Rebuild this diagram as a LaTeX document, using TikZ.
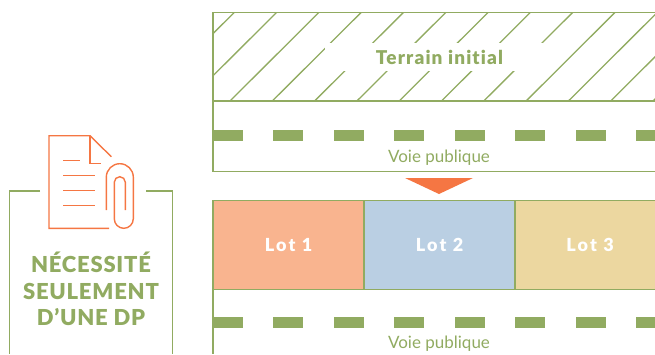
\documentclass[tikz,border=0pt]{standalone}
\usepackage{fontspec}
\setmainfont{Lato}
\newfontfamily\heavyterm[LetterSpace=6,Ligatures={NoCommon,NoRare,NoContextual}]{Lato Black}
\newfontfamily\heavylot[LetterSpace=12]{Lato Black}
\newfontfamily\headfont[LetterSpace=3.5]{Lato Black}
\definecolor{grn}{HTML}{91AB61}
\definecolor{org}{HTML}{F57643}
\definecolor{lotA}{HTML}{F9B48F}
\definecolor{lotB}{HTML}{BACFE3}
\definecolor{lotC}{HTML}{ECD7A0}
\tikzset{
  frameline/.style={draw=grn,line width=1.2pt},
  hatchline/.style={draw=grn,line width=1.3pt},
  roaddash/.style={fill=grn,draw=none},
  lotbox/.style={draw=grn,line width=1.3pt},
  lotlabel/.style={text=white,font=\heavylot\fontsize{18}{18}\selectfont,inner sep=0pt},
  roadlabel/.style={text=grn,font=\fontsize{17}{17}\selectfont,inner sep=0pt},
  icon/.style={draw=org,line width=1.4pt},
  headline/.style={text=grn,font=\headfont\fontsize{22}{26.5}\selectfont,align=center,inner sep=0pt}
}
\begin{document}
\begin{tikzpicture}[x=1pt,y=-1pt]
\useasboundingbox (0,0) rectangle (655,354);
% top plot
\begin{scope}
\clip (213,12.5) rectangle (655,101);
\foreach \k in {-2,...,10}{
  \draw[hatchline] ({230+42.3*\k},101) -- ({230+42.3*\k+89.3},12);
}
\end{scope}
\fill[white] (325,42.7) rectangle (545,71);
\draw[frameline] (655,12.5) -- (213,12.5) -- (213,171.5) -- (655,171.5);
\draw[frameline] (213,101) -- (655,101);
\foreach \k in {0,...,7}{
  \fill[roaddash] ({212.5+60.5*\k},130) rectangle ++(30.3,10.7);
  \fill[roaddash] ({212.5+60.5*\k},317) rectangle ++(30.3,10.7);
}
\node[text=grn,font=\heavyterm\fontsize{19}{19}\selectfont,inner sep=0pt] (terrain) at (439.5,57) {Terrain initial};
\node[roadlabel] (voieA) at (439,158) {Voie publique};
% arrow
\fill[org] (405,178) -- (473,178) -- (439,194) -- cycle;
% lots
\draw[lotbox,fill=lotA] (213,200.5) rectangle (364,289.5);
\draw[lotbox,fill=lotB] (364,200.5) rectangle (515,289.5);
\draw[lotbox,fill=lotC] (515,200.5) rectangle (656,289.5);
\node[lotlabel] (lotone) at (288.5,245) {Lot 1};
\node[lotlabel] (lottwo) at (439.5,245) {Lot 2};
\node[lotlabel] (lotthree) at (590,245) {Lot 3};
\draw[frameline] (213,289.5) -- (213,354);
\node[roadlabel] (voieB) at (439,344) {Voie publique};
% left frame
\draw[frameline] (40,191) -- (9.5,191) -- (9.5,354);
\draw[frameline] (146,191) -- (172.5,191) -- (172.5,354);
\node[headline] (need) at (91,289) {NÉCESSITÉ\\SEULEMENT\\D’UNE DP};
% icon
\draw[icon] (109,228.3) -- (49,228.3) -- (49,135.7) -- (90,135.7) -- (111.3,156.7);
\draw[icon] (90,135.7) -- (90,163.7) -- (100.7,163.7);
\draw[icon] (63.3,160.7) -- (80.3,160.7);
\draw[icon] (63.3,175.7) -- (95.3,175.7);
\draw[icon] (63.3,190.3) -- (95.3,190.3);
\draw[icon] (63.3,205.3) -- (95.3,205.3);
\draw[icon] (106.3,210) -- (106.3,177.2) arc[start angle=180,end angle=0,x radius=13.5,y radius=-13.5] -- (133.3,218.8) arc[start angle=0,end angle=-180,x radius=9.5,y radius=-9.5] -- (114.3,182.2) arc[start angle=180,end angle=0,x radius=5.5,y radius=-5.5] -- (125.3,210);
\end{tikzpicture}
\end{document}
